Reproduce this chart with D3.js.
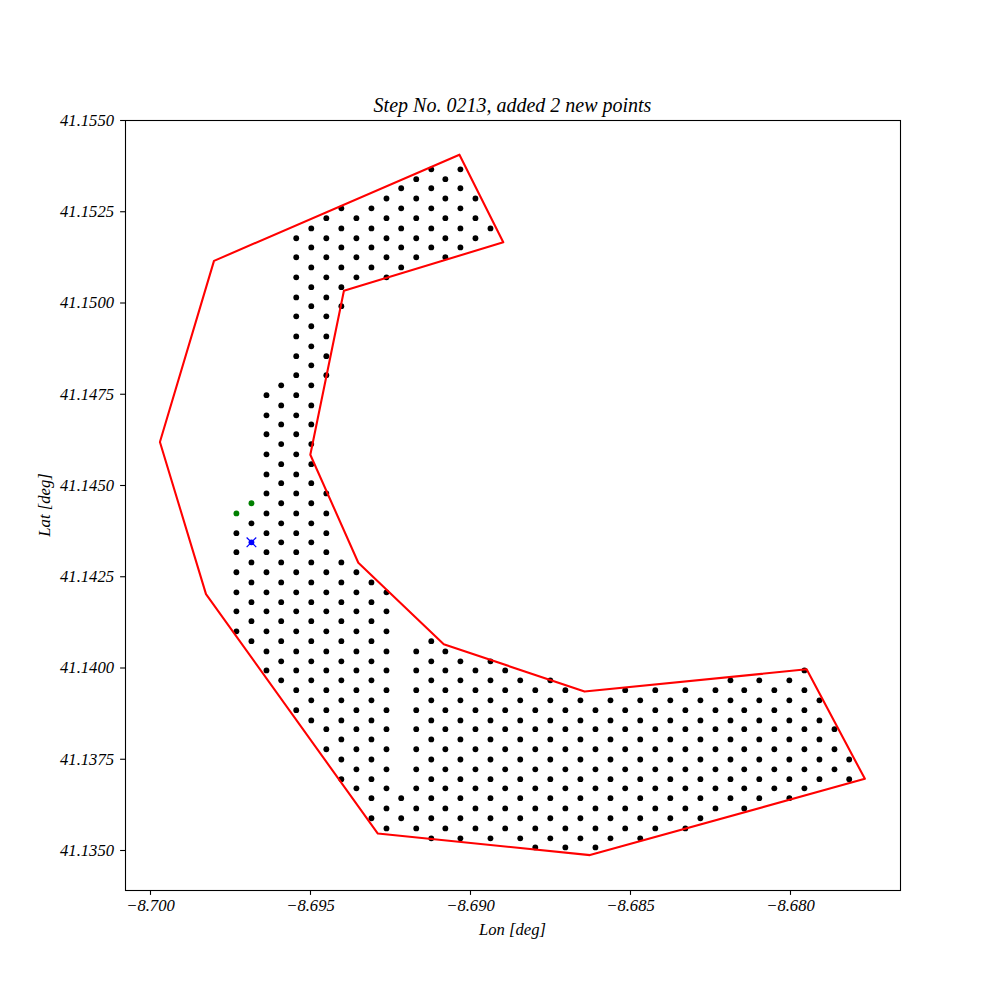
<!DOCTYPE html>
<html>
<head>
<meta charset="utf-8">
<script src="https://cdn.jsdelivr.net/npm/d3@7"></script>
<style>
  html, body { margin: 0; padding: 0; background: #fff; }
  svg { display: block; }
  text { font-family: "Liberation Serif", serif; font-style: italic; fill: #000; }
</style>
</head>
<body>
<div id="chart-area"></div>
<script>
// site boundary
const boundaryLon = [-8.69800, -8.69969, -8.69825, -8.69288, -8.68625, -8.67766, -8.67948, -8.68642, -8.69082, -8.69349, -8.69499, -8.69394, -8.68896, -8.69033]
const boundaryLat = [41.15114, 41.14618, 41.14201, 41.13545, 41.13486, 41.13695, 41.13995, 41.13934, 41.14064, 41.14287, 41.14583, 41.15032, 41.15165, 41.15405]

// grid of visited points: column longitudes, row latitudes
const gridLon = [-8.69730, -8.69683, -8.69636, -8.69590, -8.69543, -8.69496, -8.69449, -8.69402, -8.69355, -8.69308, -8.69261, -8.69215, -8.69168, -8.69121, -8.69077, -8.69030, -8.68983, -8.68936, -8.68890, -8.68843, -8.68796, -8.68749, -8.68702, -8.68655, -8.68608, -8.68561, -8.68515, -8.68468, -8.68421, -8.68374, -8.68327, -8.68280, -8.68233, -8.68186, -8.68143, -8.68096, -8.68049, -8.68002, -8.67955, -8.67908, -8.67861, -8.67815]
const gridLat = [41.15365, 41.15338, 41.15313, 41.15285, 41.15258, 41.15231, 41.15203, 41.15176, 41.15151, 41.15124, 41.15096, 41.15069, 41.15042, 41.15014, 41.14990, 41.14962, 41.14935, 41.14907, 41.14880, 41.14853, 41.14828, 41.14801, 41.14773, 41.14746, 41.14718, 41.14691, 41.14666, 41.14639, 41.14612, 41.14584, 41.14557, 41.14529, 41.14505, 41.14477, 41.14450, 41.14422, 41.14395, 41.14368, 41.14343, 41.14316, 41.14288, 41.14261, 41.14233, 41.14206, 41.14179, 41.14154, 41.14127, 41.14099, 41.14072, 41.14044, 41.14017, 41.13992, 41.13965, 41.13938, 41.13910, 41.13883, 41.13855, 41.13831, 41.13803, 41.13776, 41.13748, 41.13721, 41.13694, 41.13669, 41.13642, 41.13614, 41.13587, 41.13559, 41.13532, 41.13507]

// which rows are filled in each column
const columnRows = [
  [37, 39, 41, 43, 45, 47],
  [36, 40, 42, 44, 46, 48],
  [23, 25, 27, 29, 31, 33, 35, 37, 39, 41, 43, 45, 47, 49, 51],
  [22, 24, 26, 28, 30, 32, 34, 36, 38, 40, 42, 44, 46, 48, 50, 52],
  [7, 9, 11, 13, 15, 17, 19, 21, 23, 25, 27, 29, 31, 33, 35, 37, 39, 41, 43, 45, 47, 49, 51, 53, 55],
  [6, 8, 10, 12, 14, 16, 18, 20, 22, 24, 26, 28, 30, 32, 34, 36, 38, 40, 42, 44, 46, 48, 50, 52, 54, 56],
  [5, 7, 9, 11, 13, 15, 17, 19, 21, 33, 35, 37, 39, 41, 43, 45, 47, 49, 51, 53, 55, 57, 59],
  [4, 6, 8, 10, 12, 14, 40, 42, 44, 46, 48, 50, 52, 54, 56, 58, 60, 62],
  [5, 7, 9, 11, 41, 43, 45, 47, 49, 51, 53, 55, 57, 59, 61, 63],
  [4, 6, 8, 10, 42, 44, 46, 48, 50, 52, 54, 56, 58, 60, 62, 64, 66],
  [3, 5, 7, 9, 11, 43, 45, 47, 49, 51, 53, 55, 57, 59, 61, 63, 65, 67],
  [2, 4, 6, 8, 10, 64, 66],
  [1, 3, 5, 7, 9, 49, 51, 53, 55, 57, 59, 61, 63, 65, 67],
  [0, 2, 4, 6, 8, 48, 50, 52, 54, 56, 58, 60, 62, 64, 66, 68],
  [1, 3, 5, 7, 9, 49, 51, 53, 55, 57, 59, 61, 63, 65, 67],
  [0, 2, 4, 6, 8, 50, 52, 54, 56, 58, 60, 62, 64, 66, 68],
  [3, 5, 7, 51, 53, 55, 57, 59, 61, 63, 65, 67],
  [6, 50, 52, 54, 56, 58, 60, 62, 64, 66, 68],
  [51, 53, 55, 57, 59, 61, 63, 65, 67],
  [52, 54, 56, 58, 60, 62, 64, 66, 68],
  [53, 55, 57, 59, 61, 63, 65, 67, 69],
  [52, 54, 56, 58, 60, 62, 64, 66, 68],
  [53, 55, 57, 59, 61, 63, 65, 67, 69],
  [54, 56, 58, 60, 62, 64, 66, 68],
  [55, 57, 59, 61, 63, 65, 67, 69],
  [54, 56, 58, 60, 62, 64, 66, 68],
  [53, 55, 57, 59, 61, 63, 65, 67],
  [54, 56, 58, 60, 62, 64, 66, 68],
  [53, 55, 57, 59, 61, 63, 65, 67],
  [54, 56, 58, 60, 62, 64, 66],
  [53, 55, 57, 59, 61, 63, 65, 67],
  [54, 56, 58, 60, 62, 64, 66],
  [53, 55, 57, 59, 61, 63, 65],
  [52, 54, 56, 58, 60, 62, 64],
  [53, 55, 57, 59, 61, 63, 65],
  [52, 54, 56, 58, 60, 62, 64],
  [53, 55, 57, 59, 61, 63],
  [52, 54, 56, 58, 60, 62, 64],
  [51, 53, 55, 57, 59, 61, 63],
  [54, 56, 58, 60, 62],
  [57, 59, 61],
  [60, 62]
]

// points added in this step, and the current one
const newLon = [-8.69683, -8.69730]
const newLat = [41.14450, 41.14422]
const currentLon = [-8.69683]
const currentLat = [41.14343]

const lonTicks = [-8.700, -8.695, -8.690, -8.685, -8.680]
const latTicks = [41.1350, 41.1375, 41.1400, 41.1425, 41.1450, 41.1475, 41.1500, 41.1525, 41.1550]

const titleText = "Step No. 0213, added 2 new points"
const xLabelText = "Lon [deg]"
const yLabelText = "Lat [deg]"

const svgWidth = 1000
const svgHeight = 1000
const margin = { left: 125, right: 100, top: 120, bottom: 110 }
const chartWidth = svgWidth - margin.left - margin.right
const chartHeight = svgHeight - margin.top - margin.bottom
const dotRadius = 2.9

const svg = d3.select("#chart-area")
  .append("svg")
  .attr("width", svgWidth)
  .attr("height", svgHeight)

const chart = svg.append("g")
  .attr("transform", `translate(${margin.left},${margin.top})`)

const xScale = d3.scaleLinear()
  .domain([-8.70078125, -8.6765625])
  .range([0, chartWidth])

const yScale = d3.scaleLinear()
  .domain([41.155, 41.13390411])
  .range([0, chartHeight])

// visited points
const gridPoints = columnRows.flatMap((rows, c) =>
  rows.map(r => [gridLon[c], gridLat[r]]))

chart.append("g")
  .selectAll("circle")
  .data(gridPoints)
  .join("circle")
  .attr("cx", d => xScale(d[0]))
  .attr("cy", d => yScale(d[1]))
  .attr("r", dotRadius)
  .attr("fill", "black")

chart.append("g")
  .selectAll("circle")
  .data(d3.zip(newLon, newLat))
  .join("circle")
  .attr("cx", d => xScale(d[0]))
  .attr("cy", d => yScale(d[1]))
  .attr("r", dotRadius)
  .attr("fill", "green")

const current = chart.append("g")
  .selectAll("g")
  .data(d3.zip(currentLon, currentLat))
  .join("g")
  .attr("transform", d => `translate(${xScale(d[0])},${yScale(d[1])})`)

current.append("circle")
  .attr("r", dotRadius)
  .attr("fill", "blue")

current.append("path")
  .attr("d", d3.symbol(d3.symbolX, 62)())
  .attr("fill", "none")
  .attr("stroke", "blue")
  .attr("stroke-width", 1.2)

// boundary goes on top of the dots
const boundaryLine = d3.line()
  .x(d => xScale(d[0]))
  .y(d => yScale(d[1]))
  .curve(d3.curveLinearClosed)

chart.append("path")
  .attr("d", boundaryLine(d3.zip(boundaryLon, boundaryLat)))
  .attr("fill", "none")
  .attr("stroke", "red")
  .attr("stroke-width", 2.08)
  .attr("stroke-linejoin", "round")

const xAxis = chart.append("g")
  .attr("transform", `translate(0,${chartHeight})`)
  .call(d3.axisBottom(xScale).tickValues(lonTicks).tickFormat(d3.format(".3f")).tickSize(4.9).tickPadding(4.5))

const yAxis = chart.append("g")
  .call(d3.axisLeft(yScale).tickValues(latTicks).tickFormat(d3.format(".4f")).tickSize(4.9).tickPadding(6))

xAxis.select(".domain").remove()
yAxis.select(".domain").remove()

chart.selectAll(".tick line").attr("stroke", "black").attr("stroke-width", 1.1)
chart.selectAll(".tick text").style("font-size", "16.67px").attr("fill", "black")

// frame
chart.append("rect")
  .attr("x", 0.5)
  .attr("y", 0.5)
  .attr("width", chartWidth)
  .attr("height", chartHeight)
  .attr("fill", "none")
  .attr("stroke", "black")
  .attr("stroke-width", 1.1)

svg.append("text")
  .attr("x", margin.left + chartWidth / 2)
  .attr("y", 112)
  .attr("text-anchor", "middle")
  .style("font-size", "20px")
  .text(titleText)

svg.append("text")
  .attr("x", margin.left + chartWidth / 2)
  .attr("y", 935)
  .attr("text-anchor", "middle")
  .style("font-size", "16.67px")
  .text(xLabelText)

svg.append("text")
  .attr("transform", `rotate(-90,50,${margin.top + chartHeight / 2})`)
  .attr("x", 50)
  .attr("y", margin.top + chartHeight / 2)
  .attr("text-anchor", "middle")
  .style("font-size", "16.67px")
  .text(yLabelText)
</script>
</body>
</html>
